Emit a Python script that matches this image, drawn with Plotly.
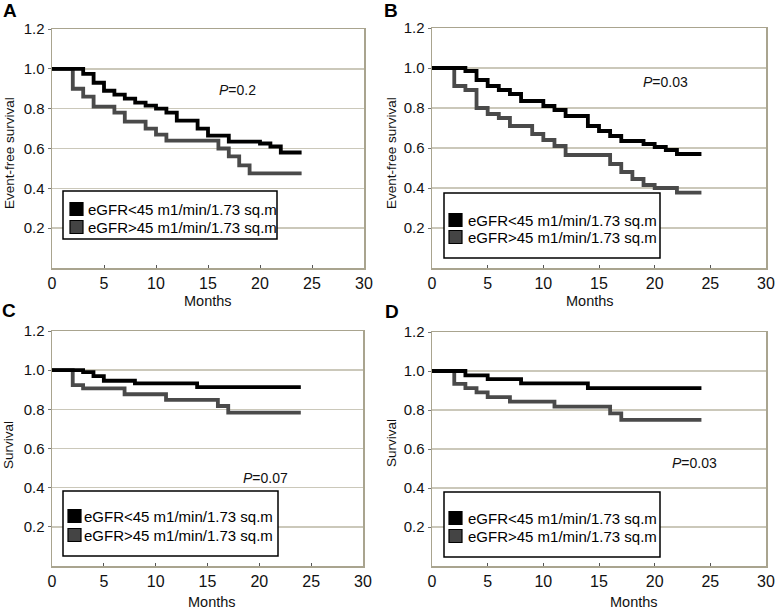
import plotly.graph_objects as go

W, H = 777, 611

# ---------------- data ----------------
months_ticks = [0, 5, 10, 15, 20, 25, 30]
surv_ticks = [0.2, 0.4, 0.6, 0.8, 1.0, 1.2]
surv_ticktext = ["0.2", "0.4", "0.6", "0.8", "1.0", "1.2"]

legend_lo = "eGFR<45 m1/min/1.73 sq.m"
legend_hi = "eGFR>45 m1/min/1.73 sq.m"

A_lo_t = [0, 3, 4, 5, 6, 7, 8, 9, 10, 11, 12, 14, 15, 17, 20, 21, 22, 24]
A_lo_s = [1.0, 0.975, 0.93, 0.89, 0.87, 0.85, 0.83, 0.815, 0.80, 0.78, 0.74, 0.70, 0.665, 0.635, 0.625, 0.61, 0.58, 0.58]
A_hi_t = [0, 2, 3, 4, 6, 7, 9, 10, 11, 16, 17, 18, 19, 24]
A_hi_s = [1.0, 0.90, 0.86, 0.81, 0.78, 0.735, 0.70, 0.67, 0.64, 0.60, 0.56, 0.515, 0.475, 0.475]

B_lo_t = [0, 3, 4, 5, 6, 7, 8, 10, 11, 12, 14, 15, 16, 17, 19, 20, 21, 22, 24.2]
B_lo_s = [1.0, 0.985, 0.94, 0.91, 0.89, 0.87, 0.835, 0.81, 0.79, 0.76, 0.71, 0.685, 0.66, 0.635, 0.62, 0.605, 0.59, 0.57, 0.57]
B_hi_t = [0, 2, 3, 4, 5, 6, 7, 9, 10, 11, 12, 16, 17, 18, 19, 20, 22, 24.2]
B_hi_s = [1.0, 0.91, 0.89, 0.80, 0.77, 0.75, 0.71, 0.67, 0.64, 0.61, 0.565, 0.52, 0.48, 0.445, 0.415, 0.40, 0.377, 0.377]

C_lo_t = [0, 3, 4, 5, 8, 14, 24]
C_lo_s = [1.0, 0.99, 0.97, 0.946, 0.933, 0.913, 0.913]
C_hi_t = [0, 2, 3, 7, 11, 16, 17, 24]
C_hi_s = [1.0, 0.924, 0.907, 0.877, 0.848, 0.817, 0.783, 0.783]

D_lo_t = [0, 3, 5, 8, 14, 24.2]
D_lo_s = [1.0, 0.978, 0.958, 0.937, 0.912, 0.912]
D_hi_t = [0, 2, 3, 4, 5, 7, 11, 16, 17, 24.2]
D_hi_s = [1.0, 0.934, 0.912, 0.89, 0.866, 0.843, 0.817, 0.783, 0.749, 0.749]

panels = [
    dict(letter="A", ytitle="Event-free survival", p="0.2",
         lo=(A_lo_t, A_lo_s), hi=(A_hi_t, A_hi_s)),
    dict(letter="B", ytitle="Event-free survival", p="0.03",
         lo=(B_lo_t, B_lo_s), hi=(B_hi_t, B_hi_s)),
    dict(letter="C", ytitle="Survival", p="0.07",
         lo=(C_lo_t, C_lo_s), hi=(C_hi_t, C_hi_s)),
    dict(letter="D", ytitle="Survival", p="0.03",
         lo=(D_lo_t, D_lo_s), hi=(D_hi_t, D_hi_s)),
]

# ---------------- layout (pixel geometry) ----------------
boxes = [(52, 364, 29, 268), (432, 766, 28, 268), (52, 363, 331, 566), (432, 766, 332, 566)]
letter_pos = [(10, 11), (391, 11), (9, 310), (392, 311)]
ytitle_pos = [(9, 153), (391, 153), (9, 445), (391, 443)]
xtitle_pos = [(208, 301), (590, 301), (212, 602), (634, 602)]
pval_pos = [(237, 90), (665, 82), (265, 478), (694, 463)]
leg_box = [(63, 277, 191, 239), (444, 660, 193, 258), (63, 278, 491, 556), (444, 660, 492, 557)]
leg_rows = [(209, 227), (220, 237), (516, 535), (518, 536)]
leg_sq_x = [70, 449, 68, 449]
leg_txt_x = [86, 466, 82, 466]

FONT = "Arial, 'Liberation Sans', Helvetica, sans-serif"
FRAME = "#a9a48f"
GRID = "#cbc8ba"
BLACK = "#000000"
GRAY = "#4a4a4a"


def px(x):
    return x / W


def py(y):
    return 1 - y / H


def label(text, x, y, size, **kw):
    d = dict(text=text, x=px(x), y=py(y), xref="paper", yref="paper", showarrow=False,
             xanchor="center", yanchor="middle",
             font=dict(family=FONT, size=size, color=kw.pop("color", "#111")))
    d.update(kw)
    return d


fig = go.Figure()
shapes = []
annotations = []

for i, pn in enumerate(panels):
    n = i + 1
    xa = "x" if n == 1 else f"x{n}"
    ya = "y" if n == 1 else f"y{n}"
    l, r, t, b = boxes[i]

    fig.add_trace(go.Scatter(x=pn["hi"][0], y=pn["hi"][1], mode="lines",
                             line=dict(shape="hv", color=GRAY, width=3.8),
                             xaxis=xa, yaxis=ya, showlegend=False, hoverinfo="skip"))
    fig.add_trace(go.Scatter(x=pn["lo"][0], y=pn["lo"][1], mode="lines",
                             line=dict(shape="hv", color=BLACK, width=3.8),
                             xaxis=xa, yaxis=ya, showlegend=False, hoverinfo="skip"))

    xkey = "xaxis" if n == 1 else f"xaxis{n}"
    ykey = "yaxis" if n == 1 else f"yaxis{n}"
    fig.layout[xkey] = dict(
        domain=[px(l), px(r)], range=[0, 30], tickvals=months_ticks,
        anchor=ya, showline=True, linecolor=FRAME, linewidth=1.5, mirror=True,
        showgrid=False, zeroline=False, ticks="inside", ticklen=3, tickcolor="#555",
        tickfont=dict(family=FONT, size=16, color="#111"), fixedrange=True, automargin=False,
    )
    fig.layout[ykey] = dict(
        domain=[py(b), py(t)], range=[0, 1.2], tickvals=surv_ticks, ticktext=surv_ticktext,
        anchor=xa, showline=True, linecolor=FRAME, linewidth=1.5, mirror=True,
        showgrid=True, gridcolor=GRID, gridwidth=1.5, zeroline=False,
        ticks="outside", ticklen=3, tickcolor="#777",
        tickfont=dict(family=FONT, size=15, color="#111"), fixedrange=True, automargin=False,
    )

    annotations.append(label(f"<b>{pn['letter']}</b>", *letter_pos[i], 19, color="#000"))
    annotations.append(label(pn["ytitle"], *ytitle_pos[i], 13.5, textangle=-90))
    annotations.append(label("Months", *xtitle_pos[i], 14.5))
    annotations.append(label(f"<i>P</i>={pn['p']}", *pval_pos[i], 14))

    x0, x1, y0, y1 = leg_box[i]
    shapes.append(dict(type="rect", xref="paper", yref="paper",
                       x0=px(x0), x1=px(x1), y0=py(y0), y1=py(y1),
                       fillcolor="white", line=dict(color="#000", width=1.5), layer="above"))
    for row, (fill, lab) in enumerate([(BLACK, legend_lo), ("#444444", legend_hi)]):
        cy = leg_rows[i][row]
        sx = leg_sq_x[i]
        shapes.append(dict(type="rect", xref="paper", yref="paper",
                           x0=px(sx), x1=px(sx + 13), y0=py(cy - 6.5), y1=py(cy + 6.5),
                           fillcolor=fill, line=dict(color="#000", width=1.2), layer="above"))
        a = label(lab, leg_txt_x[i], cy, 15, color="#000")
        a["xanchor"] = "left"
        annotations.append(a)

fig.update_layout(
    width=W, height=H, margin=dict(l=0, r=0, t=0, b=0, pad=0, autoexpand=False),
    paper_bgcolor="white", plot_bgcolor="white",
    shapes=shapes, annotations=annotations, showlegend=False,
)

fig.write_html("out.html", config={"displayModeBar": False, "staticPlot": True},
               post_script="document.body.style.margin='0px';document.body.style.overflow='hidden';")
